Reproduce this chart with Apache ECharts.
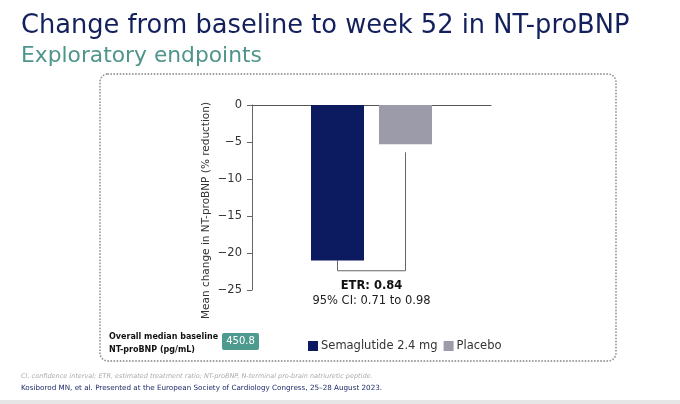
<!DOCTYPE html>
<html>
<head>
<meta charset="utf-8">
<script src="https://cdn.jsdelivr.net/npm/echarts@6/dist/echarts.min.js"></script>
<style>
  html, body { margin: 0; padding: 0; background: #fff; }
  #main { width: 680px; height: 404px; }
</style>
</head>
<body>
<div id="main"></div>
<script>
// data
var categories = ['Week 52'];
var seriesNames = ['Semaglutide 2.4 mg', 'Placebo'];
var semaValues = [-21.0];
var placeboValues = [-5.3];
var yTicks = [0, -5, -10, -15, -20, -25];
// bracket: [bottom of bracket, top of right leg]
var bracketLevels = [-22.4, -6.4];
var etrText = ['ETR: 0.84', '95% CI: 0.71 to 0.98'];
var baselineValue = '450.8';

var FONT = 'DejaVu Sans, Verdana, sans-serif';
var BAR_W = 53, BAR_GAP = 15;

var chart = echarts.init(document.getElementById('main'));

var option = {
    animation: false,
    backgroundColor: '#fff',
    textStyle: { fontFamily: FONT },
    grid: { left: 252, top: 105, width: 239, height: 185 },
    legend: {
        data: seriesNames,
        left: 303, top: 335,
        itemWidth: 10, itemHeight: 10, itemGap: 6,
        icon: 'rect',
        textStyle: { fontSize: 11.5, color: '#333', fontFamily: FONT, padding: [0, 0, 0, -2] }
    },
    xAxis: {
        type: 'category',
        data: categories,
        position: 'top',
        axisLine: { lineStyle: { color: '#555', width: 1 } },
        axisTick: { show: false },
        axisLabel: { show: false }
    },
    yAxis: {
        type: 'value',
        min: -25, max: 0, interval: 5,
        name: 'Mean change in NT-proBNP (% reduction)',
        nameLocation: 'middle',
        nameRotate: 90,
        nameGap: 40,
        nameTextStyle: { fontSize: 10.5, color: '#333', fontFamily: FONT, padding: [0, 26, 0, 0] },
        axisLine: { show: true, lineStyle: { color: '#666', width: 1 } },
        axisTick: { show: true, length: 5, lineStyle: { color: '#666' } },
        splitLine: { show: false },
        axisLabel: {
            fontSize: 11.5, color: '#333', margin: 10,
            formatter: function (v) {
                return yTicks.indexOf(v) >= 0 ? String(v).replace('-', '\u2212') : '';
            }
        }
    },
    series: [
        {
            name: seriesNames[0], type: 'bar', data: semaValues,
            barWidth: BAR_W, barGap: (BAR_GAP / BAR_W * 100) + '%',
            itemStyle: { color: '#0c1a5f' }
        },
        {
            name: seriesNames[1], type: 'bar', data: placeboValues,
            barWidth: BAR_W,
            itemStyle: { color: '#9b9ba9' }
        },
        {
            type: 'custom',
            silent: true,
            data: [[0, semaValues[0], placeboValues[0]]],
            renderItem: function (params, api) {
                var off = (BAR_W + BAR_GAP) / 2;
                var c = api.coord([api.value(0), semaValues[0]]);
                var xl = c[0] - off, xr = c[0] + off;
                var yTopL = c[1];
                var yBot = api.coord([0, bracketLevels[0]])[1];
                var yTopR = api.coord([0, bracketLevels[1]])[1];
                return {
                    type: 'group',
                    children: [{
                        type: 'polyline',
                        shape: { points: [[xl, yTopL], [xl, yBot], [xr, yBot], [xr, yTopR]] },
                        style: { stroke: '#666', lineWidth: 1, fill: null }
                    }, {
                        type: 'text',
                        style: {
                            text: etrText[0], x: c[0], y: yBot + 15,
                            align: 'center', verticalAlign: 'middle',
                            font: 'bold 11.5px ' + FONT, fill: '#111'
                        }
                    }, {
                        type: 'text',
                        style: {
                            text: etrText[1], x: c[0], y: yBot + 30,
                            align: 'center', verticalAlign: 'middle',
                            font: '11.5px ' + FONT, fill: '#222'
                        }
                    }]
                };
            }
        }
    ],
    graphic: [
        { type: 'text', left: 21, top: 13,
          style: { text: 'Change from baseline to week 52 in NT-proBNP', font: '25.7px ' + FONT, fill: '#14205c' } },
        { type: 'text', left: 21, top: 45,
          style: { text: 'Exploratory endpoints', font: '21.8px ' + FONT, fill: '#4f958b' } },
        { type: 'rect', shape: { x: 100, y: 74, width: 516, height: 287, r: 8 }, z: -1,
          style: { fill: null, stroke: '#999', lineWidth: 1.8, lineDash: [0.1, 3], lineCap: 'round' } },
        { type: 'text', left: 109, top: 330,
          style: { text: 'Overall median baseline\nNT-proBNP (pg/mL)', font: 'bold 8px ' + FONT, fill: '#111', lineHeight: 13 } },
        { type: 'rect', shape: { x: 222, y: 333, width: 37, height: 17, r: 2 },
          style: { fill: '#4f9a8f' } },
        { type: 'text', x: 240.5, y: 341.5,
          style: { text: baselineValue, font: '10px ' + FONT, fill: '#fff', align: 'center', verticalAlign: 'middle' } },
        { type: 'text', left: 21, top: 373,
          style: { text: 'CI, confidence interval; ETR, estimated treatment ratio; NT-proBNP, N-terminal pro-brain natriuretic peptide.',
                   font: 'italic 6.5px ' + FONT, fill: '#aaa' } },
        { type: 'text', left: 21, top: 385,
          style: { text: 'Kosiborod MN, et al. Presented at the European Society of Cardiology Congress, 25\u201328 August 2023.',
                   font: '7.2px ' + FONT, fill: '#1d2a68' } },
        { type: 'rect', shape: { x: 0, y: 400, width: 680, height: 4 },
          style: { fill: '#e6e6e6' } }
    ]
};

chart.setOption(option);
</script>
</body>
</html>
